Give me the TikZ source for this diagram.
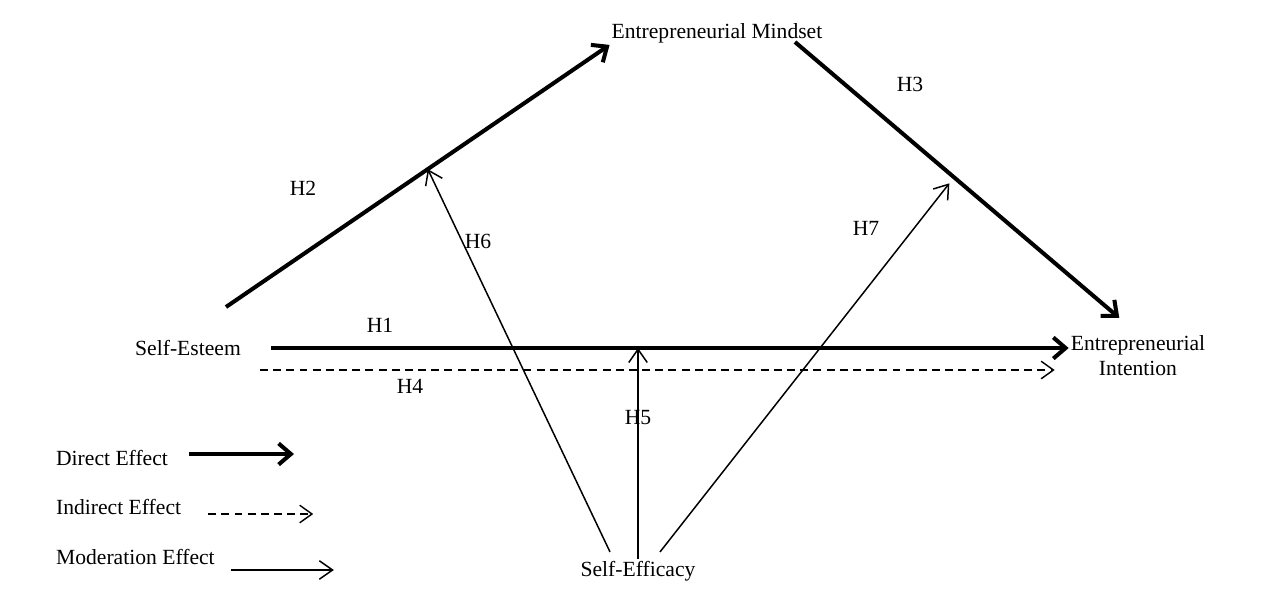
\documentclass[tikz,border=0pt]{standalone}
\usepackage{fontspec}
\setmainfont{Liberation Serif}
\usetikzlibrary{arrows.meta}
\usetikzlibrary{positioning}

\begin{document}
\begin{tikzpicture}[x=0.02cm,y=-0.02cm,font=\fontsize{12.3}{14.2}\selectfont]
\tikzset{varnode/.style={inner sep=1pt},
hlabel/.style={inner sep=1pt},
directarrow/.style={line width=2.3pt,-{Straight Barb[length=7pt,width=12pt]}},
indirectarrow/.style={line width=0.8pt,dash pattern=on 4.5pt off 3pt,-{Straight Barb[length=7pt,width=10pt]}},
modarrow/.style={line width=0.85pt,-{Straight Barb[length=7.5pt,width=10.5pt]}}}
\useasboundingbox (0,0) rectangle (1262,602);
% variables
\node[varnode](mindset) at (717,33){Entrepreneurial Mindset};
\node[varnode](esteem) at (188,348){Self-Esteem};
\node[varnode,align=center](intention) at (1138,356){Entrepreneurial\\Intention};
\node[varnode](efficacy) at (638,571){Self-Efficacy};
\coordinate (h2start) at (226,307);
\coordinate (h3start) at (795,42);
\coordinate (h4start) at (260,370);
% direct and indirect paths
\draw[directarrow](h2start) -- coordinate[pos=0.526](h2mod) (mindset.south west);
\draw[directarrow,shorten >=14pt](h3start) -- coordinate[pos=0.45](h3mod) (intention.north);
\draw[directarrow,shorten <=16pt](esteem.east) -- (esteem.east -| intention.west);
\draw[indirectarrow,shorten >=8pt](h4start) -- (h4start -| intention.west);
% moderation
\draw[modarrow](efficacy.north) -- (efficacy.north |- esteem.east);
\draw[modarrow]([xshift=-0.56cm,yshift=0.14cm]efficacy.north) -- (h2mod);
\draw[modarrow]([xshift=0.44cm,yshift=0.14cm]efficacy.north) -- ([yshift=-0.2cm]h3mod);
% hypotheses
\node[hlabel](h1) at (380,325){H1};
\node[hlabel](h2) at (303,188){H2};
\node[hlabel](h3) at (910,84){H3};
\node[hlabel](h4) at (410,386){H4};
\node[hlabel](h5) at (638,418){H5};
\node[hlabel](h6) at (478,241){H6};
\node[hlabel](h7) at (866,228){H7};
% legend
\node[varnode,anchor=west](ldirect) at (54,458){Direct Effect};
\draw[directarrow]([xshift=0.38cm,yshift=0.08cm]ldirect.east) -- ++(105,0);
\node[varnode,anchor=west](lindirect) at (54,507){Indirect Effect};
\draw[indirectarrow]([xshift=0.5cm,yshift=-0.14cm]lindirect.east) -- ++(105,0);
\node[varnode,anchor=west](lmod) at (54,557){Moderation Effect};
\draw[modarrow]([xshift=0.28cm,yshift=-0.26cm]lmod.east) -- ++(103,0);
\end{tikzpicture}
\end{document}
